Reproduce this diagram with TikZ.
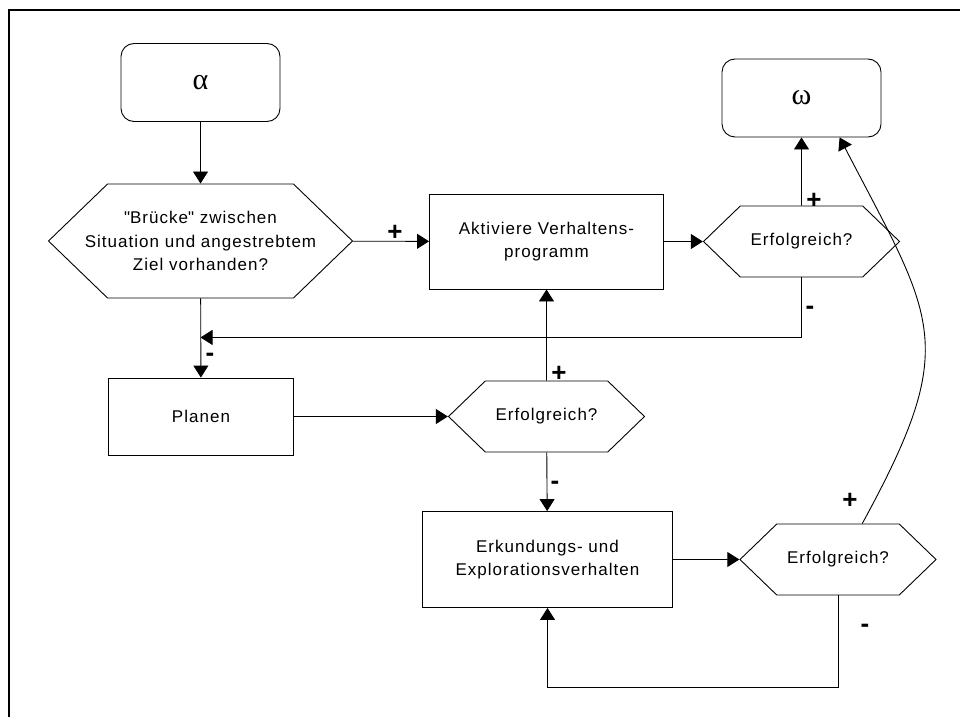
\documentclass[tikz,border=0pt]{standalone}
\usepackage{fontspec}
\setmainfont{Liberation Sans}[LetterSpace=6]
\newfontfamily\greekfont{Liberation Serif}
\usetikzlibrary{calc}
\usetikzlibrary{positioning}
\usetikzlibrary{shapes.symbols}
\usetikzlibrary{arrows.meta}
\tikzstyle{endnode} = [draw, rounded corners=13pt, minimum width=159pt, minimum height=78pt, font=\greekfont\fontsize{30}{30}\selectfont]
\tikzstyle{actnode} = [draw, rectangle, align=center, inner sep=0pt, font=\fontsize{17}{23.5}\selectfont]
\tikzstyle{testnode} = [draw, signal, signal to=east and west, signal pointer angle=88, align=center, inner sep=0pt, minimum width=196pt, minimum height=71pt, font=\fontsize{17}{23.5}\selectfont]
\tikzstyle{signnode} = [inner sep=0pt, font=\bfseries\fontsize{26}{26}\selectfont]
\tikzstyle{flow} = [-{Triangle[length=12pt,width=15pt]}]
\newcommand{\hexline}[1]{\makebox[184pt]{#1}}

\begin{document}
\begin{tikzpicture}[x=1pt, y=-1pt, line width=0.9pt]
\useasboundingbox (0,0) rectangle (960,717);
\draw[line width=2pt] (9,717) -- (9,10) -- (960,10);

\node[endnode] (start_alpha) at (200.5,82.5) {α};
\node[testnode, minimum width=304pt, minimum height=114pt] (bridge_test) at ($(start_alpha)+(0,158.5)$) {\hexline{\textquotedbl Brücke\textquotedbl{} zwischen}\\\hexline{Situation und angestrebtem}\\\hexline{Ziel vorhanden?}};
\node[actnode, minimum width=234pt, minimum height=95pt] (activate_prog) at ($(bridge_test)+(346,0.5)$) {Aktiviere Verhaltens-\\programm};
\node[testnode] (check_prog) at ($(activate_prog)+(255,0)$) {Erfolgreich?};
\node[endnode] (end_omega) at ($(check_prog)+(0,-143.5)$) {ω};
\node[actnode, minimum width=185pt, minimum height=77pt] (plan_box) at ($(bridge_test)+(0.5,175.5)$) {Planen};
\node[testnode] (check_plan) at ($(plan_box)+(345.5,0)$) {Erfolgreich?};
\node[actnode, minimum width=250pt, minimum height=96pt] (explore_box) at ($(check_plan)+(1,143)$) {Erkundungs- und\\Explorationsverhalten};
\node[testnode] (check_explore) at ($(explore_box)+(290.5,0)$) {Erfolgreich?};

\coordinate (join_point) at ($(bridge_test.south)+(0,39)$);

\draw[flow] (start_alpha) -- (bridge_test);
\draw[flow] (bridge_test) -- (activate_prog);
\draw[flow] (activate_prog) -- (check_prog);
\draw[flow] (check_prog) -- (end_omega);
\draw[flow] (check_prog.south) |- (join_point);
\draw[flow] (bridge_test) -- (plan_box);
\draw[flow] (plan_box) -- (check_plan);
\draw[flow] (check_plan) -- (activate_prog);
\draw[flow] (check_plan) -- (explore_box);
\draw[flow] (explore_box) -- (check_explore);
\draw[flow] (check_explore.south) -- ++(0,92) -| (explore_box.south);
\draw[flow] (check_explore.56.5) .. controls +(99,-181) and +(95,183) .. (end_omega.-46.5);

\node[signnode] (plus_bridge) at (395,233) {+};
\node[signnode] (minus_bridge) at (210,357) {-};
\node[signnode] (plus_prog) at (814,201) {+};
\node[signnode] (minus_prog) at (810,310) {-};
\node[signnode] (plus_plan) at (559,374) {+};
\node[signnode] (minus_plan) at (555,485) {-};
\node[signnode] (plus_explore) at (850,501) {+};
\node[signnode] (minus_explore) at (865,628) {-};
\end{tikzpicture}
\end{document}
